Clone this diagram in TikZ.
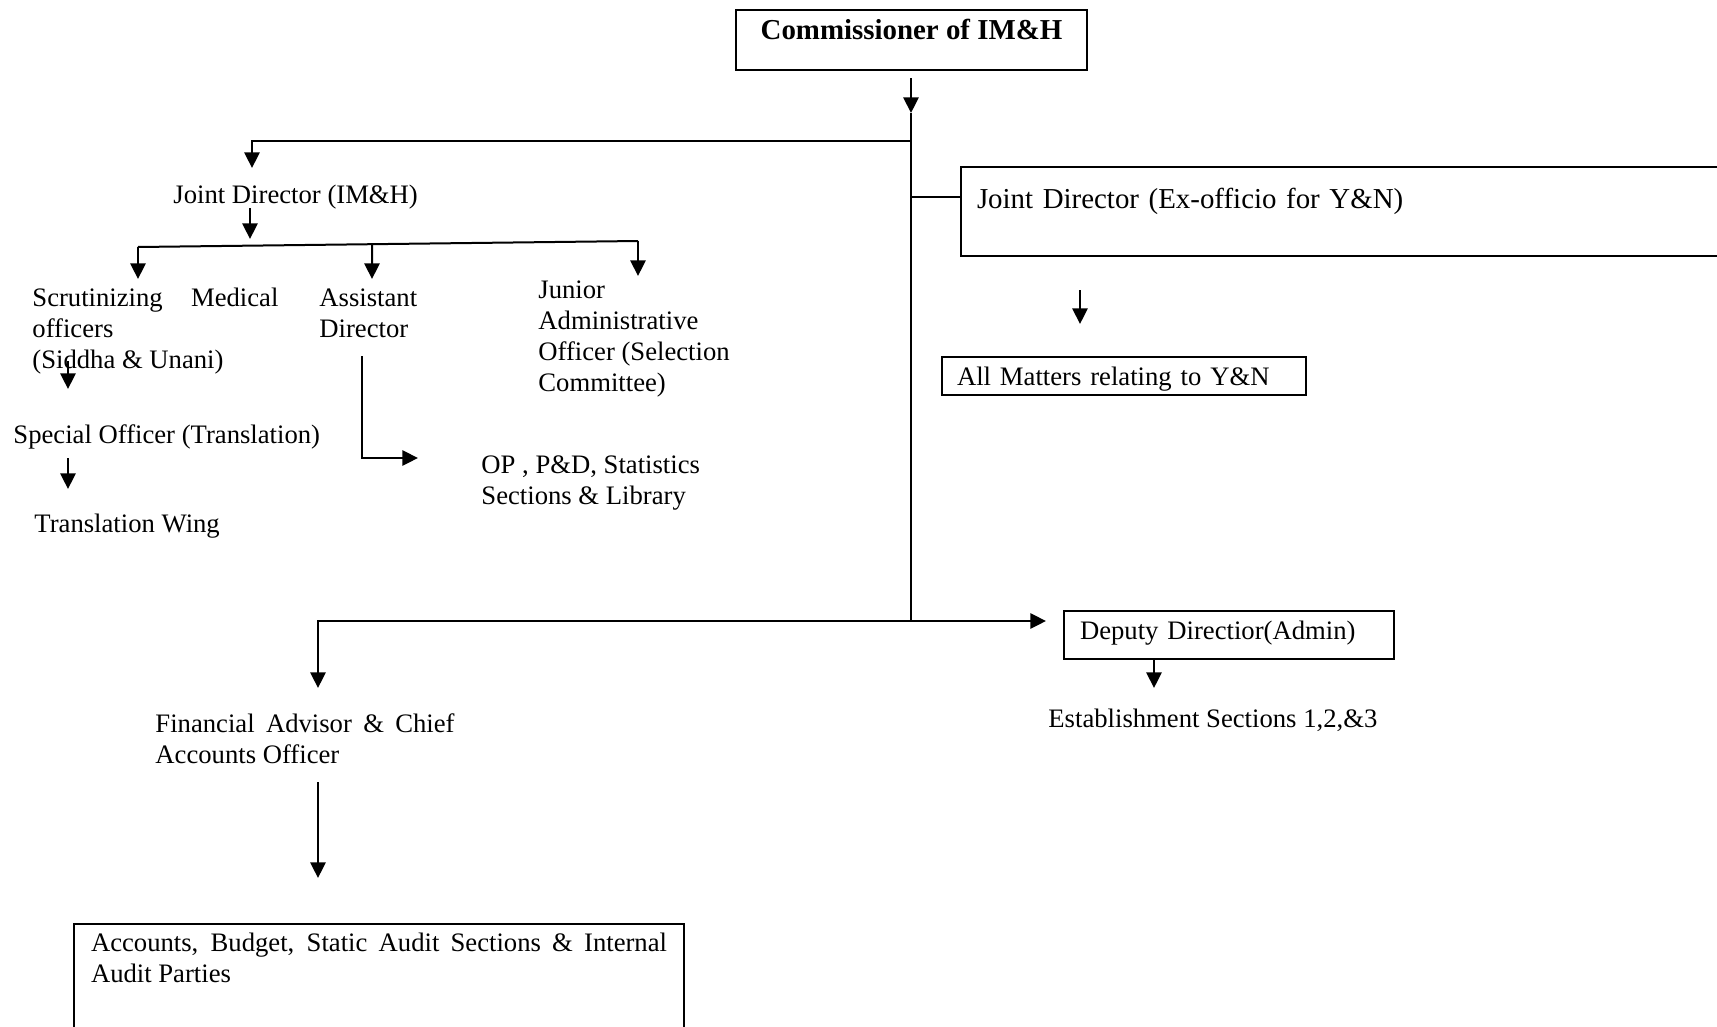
\documentclass[tikz,border=0pt]{standalone}
\usepackage{fontspec}
\setmainfont{Liberation Serif}
\usetikzlibrary{arrows.meta,calc}
\begin{document}
\begin{tikzpicture}[x=0.45pt,y=-0.45pt,
  every node/.style={font=\fontsize{12pt}{14pt}\selectfont, inner sep=0pt},
  ln/.style={line width=0.9pt},
  arr/.style={line width=0.9pt,-{Triangle[length=7pt,width=6.8pt]}},
  box/.style={draw, line width=0.9pt},
  lbl/.style={anchor=base west}]
\useasboundingbox (0,0) rectangle (1717,1027);
\clip (0,0) rectangle (1717,1027);

% boxes
\node[box, anchor=north, minimum width=157.95pt, inner ysep=3pt, text height=10.05pt, text depth=10.95pt,
  font=\fontsize{13pt}{15pt}\selectfont\bfseries] (comm) at (911.5,9) {Commissioner of IM\&H};
\node[box, anchor=north west, inner xsep=7.2pt, inner ysep=3pt, text width=332.1pt, align=left,
  text height=15.45pt, text depth=18.6pt, font=\fontsize{13pt}{15pt}\selectfont] (jdyn) at (960,166)
  {Joint Director (Ex-officio for Y\&N)};
\node[box, anchor=north west, inner xsep=6.75pt, inner ysep=2pt, text width=150.3pt, align=left,
  text height=10.6pt, text depth=2.5pt] (allm) at (941,356) {All Matters relating to Y\&N};
\node[box, anchor=north west, inner xsep=7.2pt, inner ysep=2pt, text width=134.1pt, align=left,
  text height=10.6pt, text depth=7pt] (dep) at (1063,610) {Deputy Directior(Admin)};
\node[box, anchor=north west, inner xsep=7.65pt, inner ysep=3pt, text height=9.15pt, text depth=39.75pt]
  (acc) at (73,923) {\parbox[t]{259.2pt}{Accounts, Budget, Static Audit Sections \& Internal\linebreak Audit Parties}};

% plain text nodes
\node[lbl] (jd) at (173,203) {Joint Director (IM\&H)};
\node[lbl] (scr) at (32,306) {\parbox[t]{110.7pt}{Scrutinizing\hfill Medical\\officers\\(Siddha \& Unani)}};
\node[lbl] (ad) at (319,306) {\parbox[t]{80pt}{Assistant\\Director}};
\node[lbl] (jao) at (538,298) {\parbox[t]{100pt}{Junior\\Administrative\\Officer (Selection\\Committee)}};
\node[lbl] (spo) at (13,443) {Special Officer (Translation)};
\node[lbl] (tw) at (34,532) {Translation Wing};
\node[lbl] (op) at (481,473) {\parbox[t]{110pt}{OP , P\&D, Statistics\\Sections \& Library}};
\node[lbl] (est) at (1048,727) {Establishment Sections 1,2,\&3};
\node[lbl] (fa) at (155,732) {\parbox[t]{134.6pt}{Financial\hfill Advisor\hfill\&\hfill Chief\\Accounts Officer}};

% coordinates
\coordinate (t0) at (911,78);
\coordinate (t1) at (911,113);
\coordinate (tJ) at (911,141);
\coordinate (tY) at (911,197);
\coordinate (tB) at (911,621);
\coordinate (jdA) at (252,168);
\coordinate (jdB) at (250,208);
\coordinate (jdC) at (250,239);
\coordinate (b1) at (138,247);
\coordinate (b3) at (638,241);
\coordinate (scrA) at (138,279);
\coordinate (adA) at (372,279);
\coordinate (jaoA) at (638,276);
\coordinate (scrB) at (68,361);
\coordinate (scrC) at (68,389);
\coordinate (spoB) at (68,458);
\coordinate (spoC) at (68,489);
\coordinate (adB) at (362,356);
\coordinate (opA) at (418,458);
\coordinate (yA) at (1080,290);
\coordinate (yB) at (1080,324);
\coordinate (depA) at (1046,621);
\coordinate (faA) at (318,688);
\coordinate (estA) at (1154,688);
\coordinate (faB) at (318,782);
\coordinate (faC) at (318,878);

% connectors
\draw[arr] (t0) -- (t1);
\draw[ln] (t1) -- (tB);
\draw[arr] (tJ) -| (jdA);
\draw[ln] (tY) -- (tY -| jdyn.west);
\draw[arr] (jdB) -- (jdC);
\draw[ln] (b1) -- (b3);
\draw[arr] (b1) -- (scrA);
\draw[arr] ($(b1)!0.468!(b3)$) -- (adA);
\draw[arr] (b3) -- (jaoA);
\draw[arr] (scrB) -- (scrC);
\draw[arr] (spoB) -- (spoC);
\draw[arr] (adB) |- (opA);
\draw[arr] (yA) -- (yB);
\draw[arr] (tB) -- (depA);
\draw[arr] (tB) -| (faA);
\draw[arr] (dep.south -| estA) -- (estA);
\draw[arr] (faB) -- (faC);
\end{tikzpicture}
\end{document}
